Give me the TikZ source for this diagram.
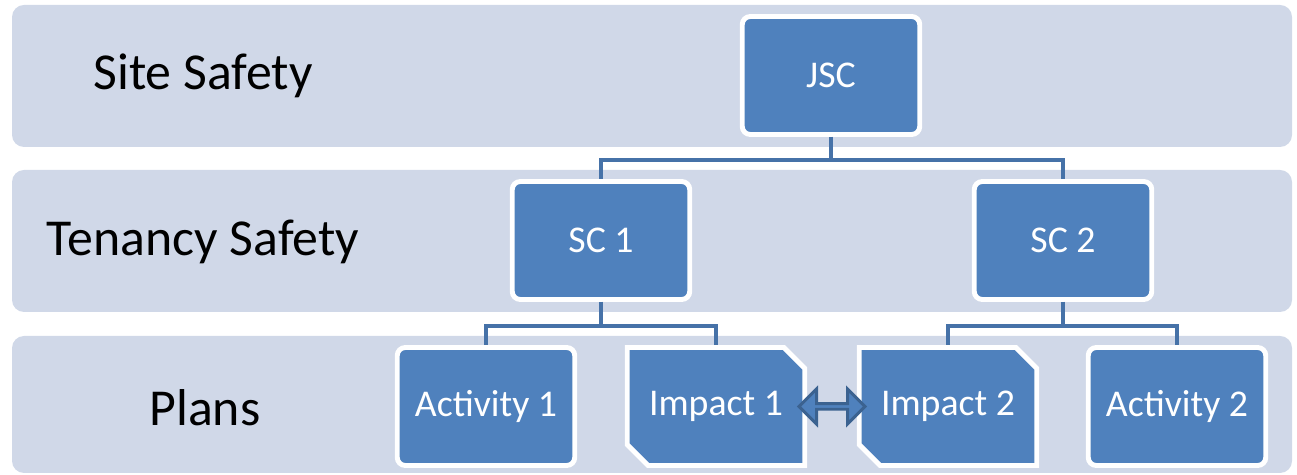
\documentclass[tikz,border=0pt]{standalone}
\usepackage{fontspec}
\setmainfont{Carlito}
\usetikzlibrary{positioning,shapes.misc,shapes.arrows}

\begin{document}
\begin{tikzpicture}[x=0.02cm, y=-0.02cm]
    \definecolor{bandColour}{HTML}{D0D8E8}
    \definecolor{boxColour}{HTML}{4F81BD}
    \definecolor{linkColour}{HTML}{4672A8}
    \definecolor{arrowColour}{HTML}{3B6290}

    \tikzset{
        tierlabel/.style={font=\fontsize{29.5}{34}\selectfont, text=black},
        planbase/.style={fill=boxColour, draw=white, line width=2.8pt,
            minimum width=3.55cm, minimum height=2.36cm, inner sep=0,
            text=white, font=\fontsize{21.5}{25}\selectfont},
        orgbox/.style={planbase, rectangle, rounded corners=0.16cm},
        snipbox/.style={planbase, chamfered rectangle,
            chamfered rectangle corners={north east,south west},
            chamfered rectangle xsep=0.42cm},
        link/.style={draw=linkColour, line width=2.6pt},
        fatarrow/.style={double arrow, draw=arrowColour, fill=boxColour,
            line width=1.7pt, inner sep=0, minimum height=1.32cm,
            minimum width=0.7cm, double arrow head extend=0.16cm}
    }

    \useasboundingbox (0,0) rectangle (1297,475);

    % Bands
    \fill[bandColour, rounded corners=0.24cm] (12,5) rectangle (1292,147);
    \fill[bandColour, rounded corners=0.24cm] (12,170) rectangle (1292,312);
    \fill[bandColour, rounded corners=0.24cm] (12,336) rectangle (1292,473);

    % Band labels
    \node[tierlabel] (siteLabel) at (203,76) {Site Safety};
    \node[tierlabel] (tenancyLabel) at (203,242) {Tenancy Safety};
    \node[tierlabel] (plansLabel) at (205,408) {Plans};

    % Committees
    \node[orgbox] (jsc) at (831,75.5) {JSC};
    \node[orgbox] (sc1) at (601,240.5) {SC 1};
    \node[orgbox] (sc2) at (1063,240.5) {SC 2};

    % Plans
    \node[orgbox] (act1) at (486,406.5) {Activity 1};
    \node[snipbox] (imp1) at (716,406.5) {Impact 1};
    \node[snipbox] (imp2) at (948,406.5) {Impact 2};
    \node[orgbox] (act2) at (1177,406.5) {Activity 2};

    % Connectors
    \draw[link] (jsc.south) -- ++(0,23) -| (sc1.north);
    \draw[link] (jsc.south) -- ++(0,23) -| (sc2.north);
    \draw[link] (sc1.south) -- ++(0,24) -| (act1.north);
    \draw[link] (sc1.south) -- ++(0,24) -| (imp1.north);
    \draw[link] (sc2.south) -- ++(0,24) -| (imp2.north);
    \draw[link] (sc2.south) -- ++(0,24) -| (act2.north);

    % Link between impacts
    \path (imp1) -- node[fatarrow] (swap) {} (imp2);

\end{tikzpicture}
\end{document}
